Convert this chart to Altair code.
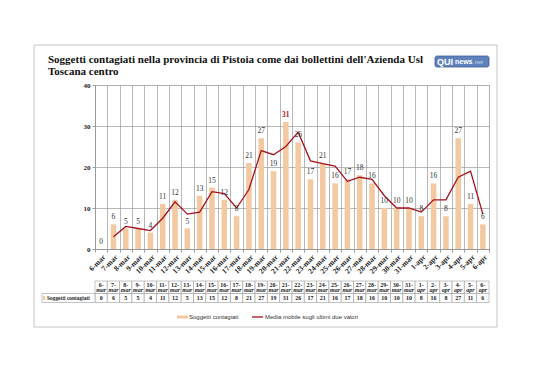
import altair as alt
import pandas as pd

dates = ["6-mar", "7-mar", "8-mar", "9-mar", "10-mar", "11-mar", "12-mar", "13-mar",
         "14-mar", "15-mar", "16-mar", "17-mar", "18-mar", "19-mar", "20-mar", "21-mar",
         "22-mar", "23-mar", "24-mar", "25-mar", "26-mar", "27-mar", "28-mar", "29-mar",
         "30-mar", "31-mar", "1-apr", "2-apr", "3-apr", "4-apr", "5-apr", "6-apr"]
cases = [0, 6, 5, 5, 4, 11, 12, 5, 13, 15, 12, 8, 21, 27, 19, 31,
         26, 17, 21, 16, 17, 18, 16, 10, 10, 10, 8, 16, 8, 27, 11, 6]
moving_avg = [None, 3, 5.5, 5, 4.5, 7.5, 11.5, 8.5, 9, 14, 13.5, 10, 14.5, 24, 23, 25,
              28.5, 21.5, 20.8, 20.2, 16.5, 17.5, 17, 13, 10, 10, 9, 12, 12, 17.5, 19, 8.5]

title1 = "Soggetti contagiati nella provincia di Pistoia come dai bollettini dell'Azienda Usl"
title2 = "Toscana centro"
series_bar = "Soggetti contagiati"
series_line = "Media mobile sugli ultimi due valori"

df = pd.DataFrame({
    "date": dates,
    "cases": cases,
    "ma": moving_avg,
    "top": [d.split("-")[0] + "-" for d in dates],
    "bottom": [d.split("-")[1] for d in dates],
})
df["hl"] = (df["cases"] == max(cases)).astype(int)

SERIF = "Liberation Serif"
SANS = "Liberation Sans"
BAR = "#F3C9A1"
LINE = "#A8101E"
GRID = "#9a9a9a"
INK = "#222222"

x_enc = alt.X("date:N", sort=dates,
              scale=alt.Scale(paddingInner=0, paddingOuter=0),
              axis=alt.Axis(title=None, labelAngle=315, tickBand="extent", grid=True,
                            gridColor=GRID, gridWidth=0.7, domainColor=GRID,
                            tickColor=GRID, tickSize=3, labelPadding=1,
                            labelFont=SERIF, labelFontSize=7.5, labelFontWeight="bold",
                            labelColor=INK))
y_scale = alt.Scale(domain=[0, 40], nice=False)

base = alt.Chart(df)

bars = base.mark_bar(color=BAR, width=alt.RelativeBandSize(0.45)).encode(
    x=x_enc,
    y=alt.Y("cases:Q", scale=y_scale,
            axis=alt.Axis(title=None, values=list(range(0, 41, 5)), grid=True,
                          gridColor=GRID, gridWidth=0.7, domainColor=GRID,
                          tickColor=GRID, tickSize=3, labelPadding=2,
                          labelFont=SERIF, labelFontSize=7, labelFontWeight="bold",
                          labelColor=INK)),
)

line = base.mark_line(color=LINE, strokeWidth=1.3).encode(
    x=alt.X("date:N", sort=dates),
    y=alt.Y("ma:Q", scale=y_scale),
)

labels = base.transform_filter("datum.hl == 0").mark_text(
    dy=-7, font=SERIF, fontSize=7.5, fill="#333333").encode(
    x=alt.X("date:N", sort=dates),
    y=alt.Y("cases:Q", scale=y_scale),
    text="cases:Q",
)
labels_hl = base.transform_filter("datum.hl == 1").mark_text(
    dy=-7, font=SERIF, fontSize=7.5, fontWeight="bold", fill="#B0202A").encode(
    x=alt.X("date:N", sort=dates),
    y=alt.Y("cases:Q", scale=y_scale),
    text="cases:Q",
)

# data table under the chart
tab_head = base.mark_rect(fill="white", stroke=GRID, strokeWidth=0.6).encode(
    x=alt.X("date:N", sort=dates), y=alt.value(196), y2=alt.value(208.5))
tab_vals = base.mark_rect(fill="white", stroke=GRID, strokeWidth=0.6).encode(
    x=alt.X("date:N", sort=dates), y=alt.value(208.5), y2=alt.value(217.5))
tab_top = base.mark_text(font=SERIF, fontSize=6, fontWeight="bold", fill=INK).encode(
    x=alt.X("date:N", sort=dates), y=alt.value(199.5), text="top:N")
tab_bot = base.mark_text(font=SERIF, fontSize=6, fontWeight="bold", fontStyle="italic",
                         fill=INK).encode(
    x=alt.X("date:N", sort=dates), y=alt.value(205), text="bottom:N")
tab_num = base.mark_text(font=SERIF, fontSize=6, fontWeight="bold", fill=INK).encode(
    x=alt.X("date:N", sort=dates), y=alt.value(213.3), text="cases:Q")

one = alt.Chart(pd.DataFrame({"k": [0]}))

frame = one.mark_rect(fill="white", fillOpacity=0, stroke="#c4c4c4", strokeWidth=1).encode(
    x=alt.value(-61), x2=alt.value(402), y=alt.value(-40), y2=alt.value(242))

head_cell = one.mark_rect(fill="white", stroke=GRID, strokeWidth=0.6).encode(
    x=alt.value(-53), x2=alt.value(0), y=alt.value(208.5), y2=alt.value(217.5))
head_sw = one.mark_rect(fill=BAR).encode(
    x=alt.value(-52), x2=alt.value(-50), y=alt.value(211), y2=alt.value(215))
head_txt = one.mark_text(align="left", font=SERIF, fontSize=5.4, fontWeight="bold",
                         fill=INK).encode(
    x=alt.value(-48), y=alt.value(213.3), text=alt.value(series_bar))

leg_sw = one.mark_rect(fill=BAR).encode(
    x=alt.value(82), x2=alt.value(93), y=alt.value(230.5), y2=alt.value(233.5))
leg_t1 = one.mark_text(align="left", baseline="middle", font=SANS, fontSize=6,
                       fill="#333333").encode(
    x=alt.value(94), y=alt.value(232), text=alt.value(series_bar))
leg_ln = one.mark_rule(color=LINE, strokeWidth=1.3).encode(
    x=alt.value(157), x2=alt.value(168), y=alt.value(232))
leg_t2 = one.mark_text(align="left", baseline="middle", font=SANS, fontSize=6,
                       fill="#333333").encode(
    x=alt.value(170), y=alt.value(232), text=alt.value(series_line))

t1 = one.mark_text(align="left", baseline="alphabetic", font=SERIF, fontSize=11,
                   fontWeight="bold", fill="#111111").encode(
    x=alt.value(-47), y=alt.value(-22), text=alt.value(title1))
t2 = one.mark_text(align="left", baseline="alphabetic", font=SERIF, fontSize=11,
                   fontWeight="bold", fill="#111111").encode(
    x=alt.value(-47), y=alt.value(-10), text=alt.value(title2))

logo = one.mark_rect(fill="#5F82BC", stroke="#3E5E93", strokeWidth=0.8,
                     cornerRadius=2).encode(
    x=alt.value(340), x2=alt.value(394), y=alt.value(-29), y2=alt.value(-18))
logo1 = one.mark_text(align="left", baseline="middle", font=SANS, fontSize=9,
                      fontWeight="bold", fill="white").encode(
    x=alt.value(342), y=alt.value(-23.3), text=alt.value("QUI"))
logo2 = one.mark_text(align="left", baseline="middle", font=SANS, fontSize=7,
                      fontWeight="bold", fill="white").encode(
    x=alt.value(360), y=alt.value(-22.8), text=alt.value("news"))
logo3 = one.mark_text(align="left", baseline="middle", font=SANS, fontSize=6,
                      fontStyle="italic", fill="#C9D6EE").encode(
    x=alt.value(378), y=alt.value(-22.8), text=alt.value(".net"))

chart = alt.layer(
    frame, bars, line, labels, labels_hl,
    tab_head, tab_vals, tab_top, tab_bot, tab_num,
    head_cell, head_sw, head_txt,
    leg_sw, leg_t1, leg_ln, leg_t2,
    t1, t2, logo, logo1, logo2, logo3,
).properties(
    width=394, height=164,
    autosize=alt.AutoSizeParams(type="none"),
    padding={"left": 87, "top": 77, "right": 41, "bottom": 123},
).configure_view(
    stroke=GRID, strokeWidth=0.7
).configure(background="white")

chart.save("out.html", embed_options={"renderer": "svg", "actions": False})
